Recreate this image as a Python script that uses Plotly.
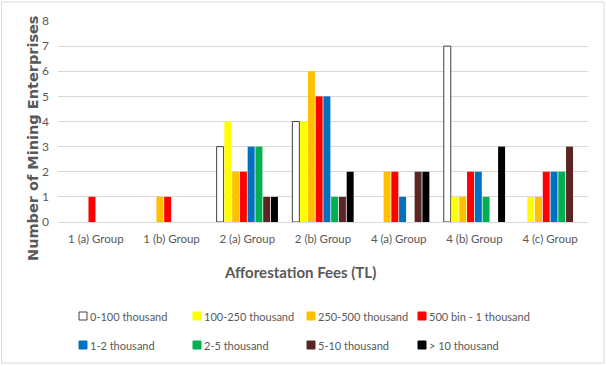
import plotly.graph_objects as go

groups = ["1 (a) Group", "1 (b) Group", "2 (a) Group", "2 (b) Group",
          "4 (a) Group", "4 (b) Group", "4 (c) Group"]

series_names = ["0-100 thousand", "100-250 thousand", "250-500 thousand", "500 bin - 1 thousand",
                "1-2 thousand", "2-5 thousand", "5-10 thousand", "> 10 thousand"]

v_0_100 = [0, 0, 3, 4, 0, 7, 0]
v_100_250 = [0, 0, 4, 4, 0, 1, 1]
v_250_500 = [0, 1, 2, 6, 2, 1, 1]
v_500_1 = [1, 1, 2, 5, 2, 2, 2]
v_1_2 = [0, 0, 3, 5, 1, 2, 2]
v_2_5 = [0, 0, 3, 1, 0, 1, 2]
v_5_10 = [0, 0, 1, 1, 2, 0, 3]
v_10_plus = [0, 0, 1, 2, 2, 3, 0]

series_values = [v_0_100, v_100_250, v_250_500, v_500_1, v_1_2, v_2_5, v_5_10, v_10_plus]
colors = ["#FFFFFF", "#FFFF00", "#FFC000", "#FF0000", "#0070C0", "#00B050", "#5B2523", "#000000"]
line_colors = ["#404040", "#FFFF00", "#FFC000", "#FF0000", "#0070C0", "#00B050", "#5B2523", "#000000"]

TEXT = "#595959"
FONT = "Lato, 'Open Sans', sans-serif"

fig = go.Figure()
for i, (name, vals) in enumerate(zip(series_names, series_values)):
    lw = [1 if v > 0 else 0 for v in vals] if i == 0 else 0
    fig.add_trace(go.Bar(
        x=groups, y=vals, name=name, showlegend=False,
        marker=dict(color=colors[i], line=dict(color=line_colors[i], width=lw)),
    ))

L, R, T, B = 58, 18, 21, 144
W, H = 606, 366
pw, ph = W - L - R, H - T - B

def px(x):
    return (x - L) / pw

def py(y):
    return (H - B - y) / ph

# legend laid out as in the reference: 2 rows x 4 columns
leg_cols = [79, 193, 307, 418]
leg_rows = [316, 345]
annotations = []
shapes = []
for i, name in enumerate(series_names):
    cx = leg_cols[i % 4]
    cy = leg_rows[i // 4]
    shapes.append(dict(type="rect", xref="paper", yref="paper",
                       x0=px(cx), x1=px(cx + 8), y0=py(cy + 4), y1=py(cy - 4),
                       fillcolor=colors[i],
                       line=dict(color="#404040" if i == 0 else colors[i], width=1)))
    annotations.append(dict(text=name, x=px(cx + 9), y=py(cy), xref="paper", yref="paper",
                            xanchor="left", yanchor="middle", showarrow=False,
                            font=dict(family=FONT, size=11, color=TEXT)))

annotations += [
    dict(text="<b>Number of Mining Enterprises</b>", x=px(23), y=py(139), xref="paper", yref="paper",
         textangle=-90, showarrow=False, font=dict(family="DejaVu Sans", size=14.5, color=TEXT)),
    dict(text="<b>Afforestation Fees (TL)</b>", x=px(300), y=py(283), xref="paper", yref="paper",
         showarrow=False, font=dict(family=FONT, size=15, color=TEXT)),
]
shapes.append(dict(type="rect", xref="paper", yref="paper", x0=px(1.5), x1=px(604), y0=py(363), y1=py(2),
                   line=dict(color="#D9D9D9", width=1), layer="below"))

fig.update_layout(
    width=W, height=H,
    margin=dict(l=L, r=R, t=T, b=B),
    paper_bgcolor="white", plot_bgcolor="white",
    barmode="group", bargap=0.18, bargroupgap=0.1,
    showlegend=False,
    font=dict(family=FONT, color=TEXT, size=12),
    xaxis=dict(showgrid=False, showline=True, linecolor="#D9D9D9", linewidth=1,
               ticks="", tickfont=dict(size=11.5, color=TEXT), ticklabelstandoff=6),
    yaxis=dict(range=[0, 8], dtick=1, showgrid=True, gridcolor="#D9D9D9", gridwidth=1,
               zeroline=False, showline=False, ticks="", tickfont=dict(size=12, color=TEXT),
               ticklabelstandoff=8),
    annotations=annotations,
    shapes=shapes,
)

fig.write_html("out.html")
